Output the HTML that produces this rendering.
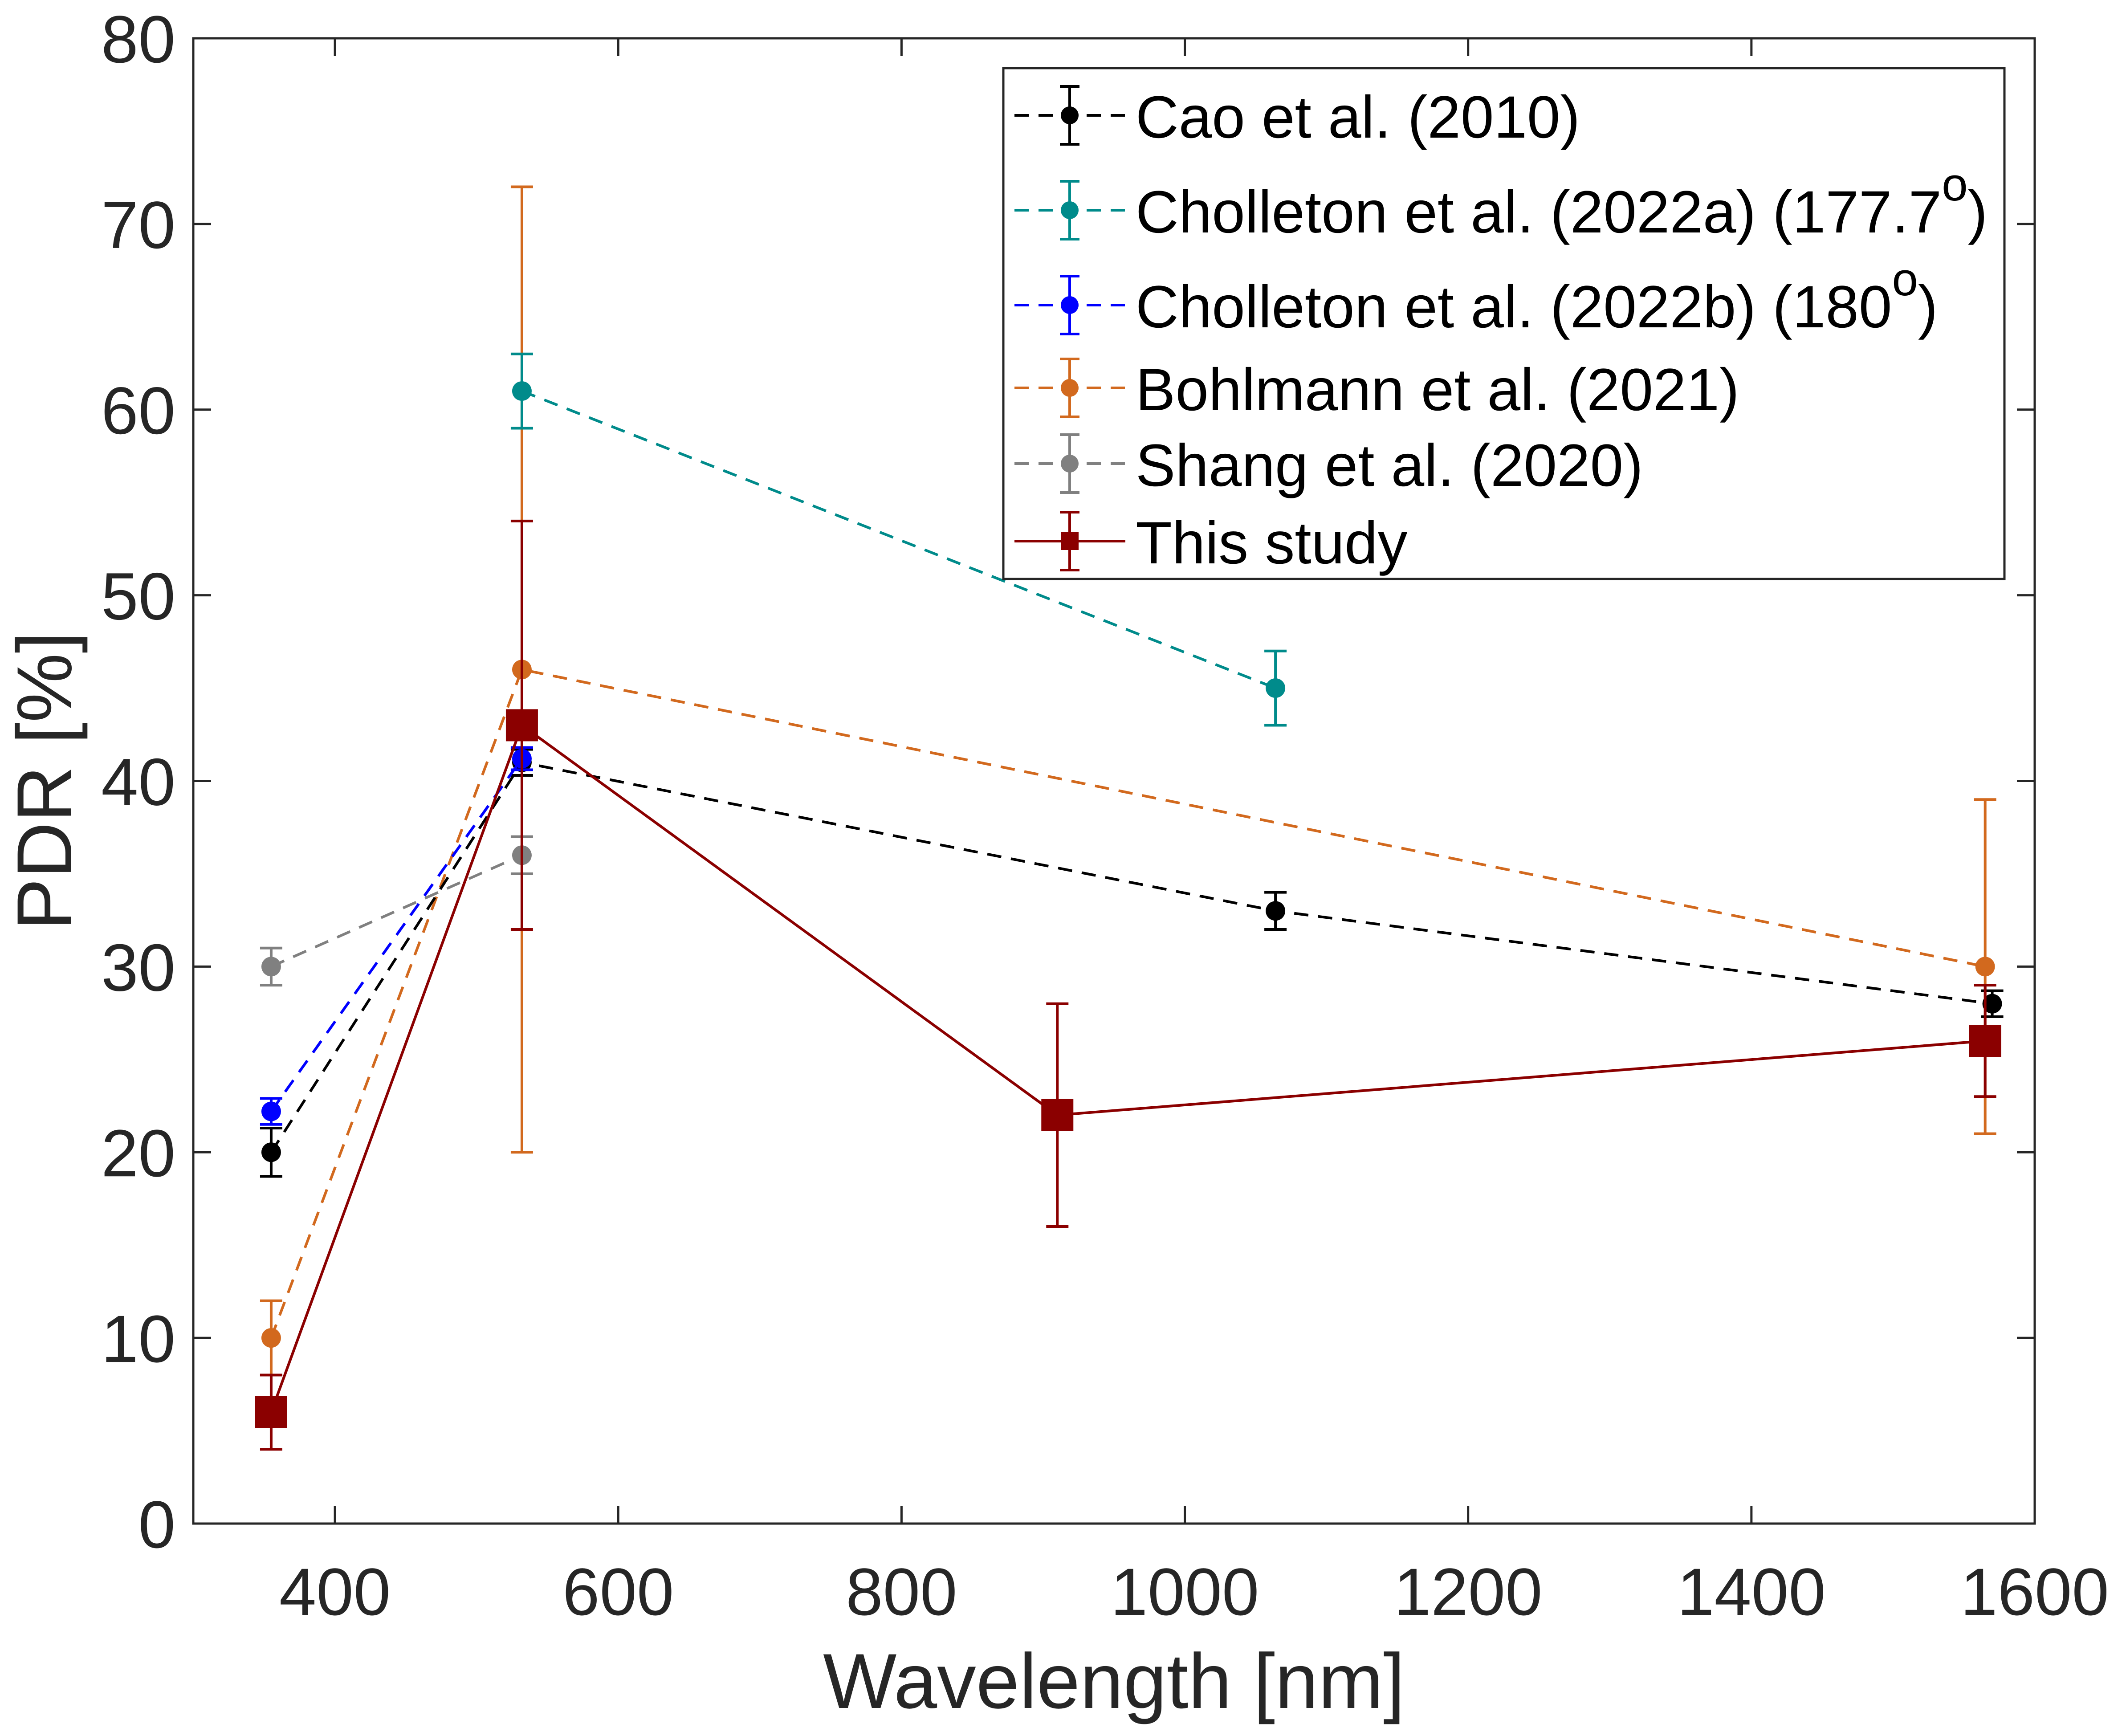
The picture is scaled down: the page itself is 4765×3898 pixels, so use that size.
<!DOCTYPE html>
<html><head><meta charset="utf-8"><style>
html,body{margin:0;padding:0;background:#fff;}
svg{display:block;font-family:"Liberation Sans",Arial,sans-serif;}
</style></head><body>
<svg id="chart" width="4765" height="3898" viewBox="0 0 4765 3898" xmlns="http://www.w3.org/2000/svg">
<rect width="4765" height="3898" fill="#fff"/>
<g id="grid-layer"></g>
<g id="data-layer"></g>
<g id="legend-layer"></g>
</svg>
<script>
const seriesNames = ["Cao et al. (2010)", "Cholleton et al. (2022a) (177.7", "Cholleton et al. (2022b) (180", "Bohlmann et al. (2021)", "Shang et al. (2020)", "This study"];
const seriesColors = ["#000000", "#008b8b", "#0000ff", "#d2691e", "#808080", "#8b0000"];
const caoX = [355, 532, 1064, 1570];
const caoY = [20, 41, 33, 28];
const caoErr = [1.3, 0.7, 1, 0.7];
const cholAX = [532, 1064];
const cholAY = [61, 45];
const cholAErr = [2, 2];
const cholBX = [355, 532];
const cholBY = [22.2, 41.2];
const cholBErr = [0.7, 0.6];
const bohlX = [355, 532, 1565];
const bohlY = [10, 46, 30];
const bohlErr = [2, 26, 9];
const shangX = [355, 532];
const shangY = [30, 36];
const shangErr = [1, 1];
const studyX = [355, 532, 910, 1565];
const studyY = [6, 43, 22, 26];
const studyErr = [2, 11, 6, 3];
const xTicks = [400, 600, 800, 1000, 1200, 1400, 1600];
const yTicks = [0, 10, 20, 30, 40, 50, 60, 70, 80];

const NS = "http://www.w3.org/2000/svg";
const L = 434, R = 4569, T = 86, B = 3421;
const xMin = 300, xMax = 1600, yMin = 0, yMax = 80;
function sx(v){ return L + (v - xMin) / (xMax - xMin) * (R - L); }
function sy(v){ return B - (v - yMin) / (yMax - yMin) * (B - T); }
function mk(tag, attrs, parent){ const e = document.createElementNS(NS, tag); for (const k in attrs) e.setAttribute(k, attrs[k]); parent.appendChild(e); return e; }

const grid = document.getElementById('grid-layer');
const data = document.getElementById('data-layer');
const leg = document.getElementById('legend-layer');

const box = mk('rect', {x:L, y:T, width:R-L, height:B-T, fill:'none', stroke:'#262626', 'stroke-width':5}, grid);


const TL = 40;
xTicks.forEach(v => {
  const x = sx(v);
  mk('line', {x1:x, y1:B, x2:x, y2:B-TL, stroke:'#262626', 'stroke-width':5}, grid);
  mk('line', {x1:x, y1:T, x2:x, y2:T+TL, stroke:'#262626', 'stroke-width':5}, grid);
  const t = mk('text', {x:x, y:B+205, 'text-anchor':'middle', 'font-size':150, fill:'#262626'}, grid);
  t.textContent = v;
  
  
});
yTicks.forEach(v => {
  const y = sy(v);
  mk('line', {x1:L, y1:y, x2:L+TL, y2:y, stroke:'#262626', 'stroke-width':5}, grid);
  mk('line', {x1:R, y1:y, x2:R-TL, y2:y, stroke:'#262626', 'stroke-width':5}, grid);
  const t = mk('text', {x:L-40, y:y+54, 'text-anchor':'end', 'font-size':150, fill:'#262626'}, grid);
  t.textContent = v;
  
  
});
const xl = mk('text', {x:(L+R)/2, y:3835, 'text-anchor':'middle', 'font-size':175, fill:'#262626'}, grid);
xl.textContent = 'Wavelength [nm]';


const yl = mk('text', {x:0, y:0, 'text-anchor':'middle', 'font-size':175, fill:'#262626', transform:`translate(160,${(T+B)/2}) rotate(-90)`}, grid);
yl.textContent = 'PDR [%]';



function drawSeries(name, xs, ys, errs, color, dashed, square){
  const g = mk('g', {}, data);
  
  
  const pts = xs.map((v,i) => sx(v) + ',' + sy(ys[i])).join(' ');
  const a = {points:pts, fill:'none', stroke:color, 'stroke-width':6};
  if (dashed) a['stroke-dasharray'] = '32 22';
  mk('polyline', a, g);
  xs.forEach((v,i) => {
    const x = sx(v), y1 = sy(ys[i]-errs[i]), y2 = sy(ys[i]+errs[i]), c = 25;
    mk('line', {x1:x, y1:y1, x2:x, y2:y2, stroke:color, 'stroke-width':6}, g);
    mk('line', {x1:x-c, y1:y1, x2:x+c, y2:y1, stroke:color, 'stroke-width':6}, g);
    mk('line', {x1:x-c, y1:y2, x2:x+c, y2:y2, stroke:color, 'stroke-width':6}, g);
    let m;
    if (square) m = mk('rect', {x:x-36, y:sy(ys[i])-36, width:72, height:72, fill:color}, g);
    else m = mk('circle', {cx:x, cy:sy(ys[i]), r:22, fill:color}, g);
    
    
  });
}
drawSeries('series-shang', shangX, shangY, shangErr, seriesColors[4], true, false);
drawSeries('series-bohlmann', bohlX, bohlY, bohlErr, seriesColors[3], true, false);
drawSeries('series-cao', caoX, caoY, caoErr, seriesColors[0], true, false);
drawSeries('series-cholleton-b', cholBX, cholBY, cholBErr, seriesColors[2], true, false);
drawSeries('series-cholleton-a', cholAX, cholAY, cholAErr, seriesColors[1], true, false);
drawSeries('series-this-study', studyX, studyY, studyErr, seriesColors[5], false, true);

const lb = mk('rect', {x:2253, y:153, width:2248, height:1147, fill:'#fff', stroke:'#262626', 'stroke-width':5}, leg);


const rowY = [259, 472, 685, 871, 1041, 1215];
seriesNames.forEach((n,i) => {
  const g = mk('g', {}, leg);
  
  
  const y = rowY[i], c = seriesColors[i];
  const a = {x1:2278, y1:y, x2:2527, y2:y, stroke:c, 'stroke-width':6};
  if (i < 5) a['stroke-dasharray'] = '32 22';
  mk('line', a, g);
  mk('line', {x1:2402, y1:y-65, x2:2402, y2:y+65, stroke:c, 'stroke-width':6}, g);
  mk('line', {x1:2380, y1:y-65, x2:2424, y2:y-65, stroke:c, 'stroke-width':6}, g);
  mk('line', {x1:2380, y1:y+65, x2:2424, y2:y+65, stroke:c, 'stroke-width':6}, g);
  if (i === 5) mk('rect', {x:2382, y:y-20, width:40, height:40, fill:c}, g);
  else mk('circle', {cx:2402, cy:y, r:20, fill:c}, g);
  const t = mk('text', {x:2550, y:y+50, 'font-size':134, fill:'#000'}, g);
  t.textContent = n;
  if (i === 1 || i === 2) {
    const s = mk('tspan', {'font-size':105, dy:-72}, t); s.textContent = 'o';
    const p = mk('tspan', {'font-size':134, dy:72}, t); p.textContent = ')';
  }
});
</script>
</body></html>
